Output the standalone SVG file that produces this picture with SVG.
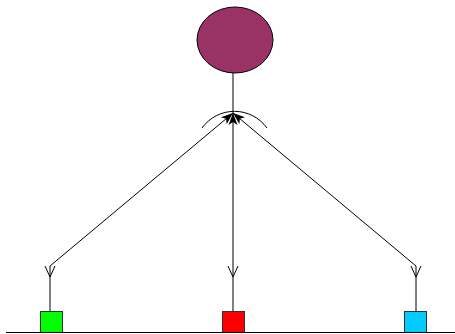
<svg xmlns="http://www.w3.org/2000/svg" width="455" height="334" viewBox="0 0 455 334">
<style>
.ln{fill:none;stroke:#000;stroke-width:1}
.box{stroke:#333;stroke-width:1}
</style>
<defs>
<marker id="filled" markerWidth="13" markerHeight="10" refX="12" refY="5" orient="auto" markerUnits="userSpaceOnUse">
<path d="M0,0.5 L12,5 L0,9.5 L3,5 Z" fill="#000"/>
</marker>
<marker id="open" markerWidth="12" markerHeight="12" refX="11" refY="6" orient="auto" markerUnits="userSpaceOnUse">
<path d="M0,1 L11,6 L0,11" fill="none" stroke="#000" stroke-width="1"/>
</marker>
</defs>
<g id="connectors">
<line class="ln" x1="233" y1="73" x2="233" y2="113"/>
<path class="ln" d="M202,128 A40,40 0 0 1 267,128"/>
<line class="ln" x1="50" y1="266" x2="233" y2="113" marker-end="url(#filled)"/>
<line class="ln" x1="416" y1="266" x2="233" y2="113" marker-end="url(#filled)"/>
<line class="ln" x1="233" y1="266" x2="233" y2="113" marker-end="url(#filled)"/>
<line class="ln" x1="50" y1="266" x2="50" y2="277" marker-end="url(#open)"/>
<line class="ln" x1="50" y1="277" x2="50" y2="311"/>
<line class="ln" x1="233" y1="266" x2="233" y2="277" marker-end="url(#open)"/>
<line class="ln" x1="233" y1="277" x2="233" y2="311"/>
<line class="ln" x1="416" y1="266" x2="416" y2="277" marker-end="url(#open)"/>
<line class="ln" x1="416" y1="277" x2="416" y2="311"/>
</g>
<g id="top">
<ellipse cx="235" cy="40" rx="38" ry="33" fill="#993366" stroke="#000"/>
</g>
<g id="green"><rect class="box" x="40.5" y="311.5" width="22" height="21" fill="#00ff00"/></g>
<g id="red"><rect class="box" x="222.5" y="311.5" width="22" height="21" fill="#ff0000"/></g>
<g id="cyan"><rect class="box" x="404.5" y="311.5" width="22" height="21" fill="#00ccff"/></g>
<g id="base"><line class="ln" x1="6" y1="332.5" x2="455" y2="332.5"/></g>
</svg>
